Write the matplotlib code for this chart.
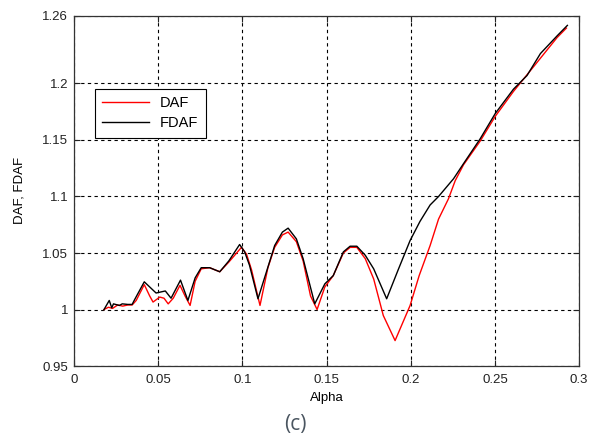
import matplotlib
matplotlib.use("Agg")
import matplotlib.pyplot as plt
import numpy as np

# values (c)
alpha_daf = [0.0179, 0.0205, 0.023, 0.026, 0.029, 0.032, 0.0346, 0.037, 0.0418, 0.045, 0.047,
             0.051, 0.0535, 0.056, 0.059, 0.063, 0.066, 0.069, 0.072, 0.0756, 0.0806, 0.0866,
             0.092, 0.0995, 0.1025, 0.1055, 0.1105, 0.1152, 0.1192, 0.1238, 0.1272, 0.1321,
             0.1361, 0.1405, 0.1444, 0.149, 0.154, 0.16, 0.164, 0.168, 0.173, 0.178, 0.1837,
             0.1907, 0.1996, 0.205, 0.2115, 0.2165, 0.2224, 0.2264, 0.2313, 0.2412, 0.2502,
             0.261, 0.273, 0.2868, 0.2924]
daf = [1.000, 1.002, 1.001, 1.004, 1.003, 1.004, 1.004, 1.008, 1.022, 1.012, 1.0066,
       1.011, 1.010, 1.005, 1.010, 1.0214, 1.012, 1.0036, 1.025, 1.036, 1.037, 1.0334,
       1.042, 1.055, 1.049, 1.035, 1.0036, 1.037, 1.055, 1.066, 1.0685, 1.060,
       1.043, 1.012, 1.000, 1.020, 1.030, 1.050, 1.055, 1.055, 1.045, 1.027, 0.9947,
       0.9725, 1.0035, 1.030, 1.0566, 1.080, 1.098, 1.114, 1.128, 1.149, 1.171,
       1.193, 1.215, 1.2405, 1.249]

alpha_fdaf = [0.0179, 0.021, 0.0225, 0.0235, 0.027, 0.0287, 0.032, 0.0346, 0.0358, 0.0418,
              0.0488, 0.0543, 0.0577, 0.0633, 0.0677, 0.072, 0.0756, 0.0806, 0.0866, 0.092,
              0.0984, 0.1014, 0.1043, 0.1093, 0.1152, 0.1192, 0.1238, 0.1272, 0.1321, 0.1361,
              0.143, 0.149, 0.154, 0.16, 0.164, 0.168, 0.173, 0.178, 0.1857, 0.1925, 0.1996,
              0.2055, 0.2115, 0.2165, 0.2254, 0.2313, 0.2412, 0.2502, 0.261, 0.269, 0.277,
              0.2868, 0.293]
fdaf = [1.000, 1.008, 1.0015, 1.005, 1.0036, 1.005, 1.0045, 1.0045, 1.008, 1.0245,
        1.0146, 1.0164, 1.010, 1.026, 1.008, 1.028, 1.037, 1.037, 1.0334, 1.043,
        1.0575, 1.051, 1.039, 1.0095, 1.0375, 1.0566, 1.0685, 1.072, 1.0625, 1.045,
        1.005, 1.0227, 1.030, 1.051, 1.056, 1.056, 1.048, 1.036, 1.0095, 1.035, 1.061,
        1.078, 1.0925, 1.1, 1.1157, 1.129, 1.151, 1.1735, 1.195, 1.207, 1.2265,
        1.242, 1.2514]

xticks = [0, 0.05, 0.1, 0.15, 0.2, 0.25, 0.3]
xticklabels = ["0", "0.05", "0.1", "0.15", "0.2", "0.25", "0.3"]
yticks = [0.95, 1.0, 1.05, 1.1, 1.15, 1.2, 1.26]
yticklabels = ["0.95", "1", "1.05", "1.1", "1.15", "1.2", "1.26"]

plt.rcParams["font.family"] = ["Liberation Sans", "DejaVu Sans"]

fig = plt.figure(figsize=(5.91, 4.48), dpi=100)
ax = fig.add_axes([0.125, 0.183, 0.855, 0.782])

ax.plot(alpha_daf, daf, color="red", lw=1.0, label="DAF")
ax.plot(alpha_fdaf, fdaf, color="black", lw=1.0, label="FDAF")

ax.set_xlim(0, 0.3)
ax.set_ylim(0.95, 1.26)
ax.set_xticks(xticks)
ax.set_xticklabels(xticklabels)
ax.set_yticks(yticks)
ax.set_yticklabels(yticklabels)
ax.tick_params(direction="in", length=4, labelsize=9.5, colors="#222222", top=True, right=True,
               labeltop=False, labelright=False, width=0.8, pad=4)
ax.tick_params(axis="x", pad=6)
ax.grid(True, color="black", linestyle=(0, (3, 3)), linewidth=0.8)
for s in ax.spines.values():
    s.set_color("#333333")
    s.set_linewidth(0.9)

ax.set_xlabel("Alpha", fontsize=9.5, labelpad=4)
ax.set_ylabel("DAF, FDAF", fontsize=9.5, labelpad=12)

leg = ax.legend(loc="upper left", bbox_to_anchor=(0.041, 0.792), fontsize=10.5, fancybox=False,
                framealpha=1, edgecolor="black", borderpad=0.5, handlelength=3.2,
                labelspacing=0.45, borderaxespad=0)
leg.get_frame().set_linewidth(0.8)

fig.text(0.5, 0.052, "(c)", ha="center", va="center", fontsize=15, color="#4a5560",
         family="Open Sans")

plt.savefig("out.png", dpi=100)
